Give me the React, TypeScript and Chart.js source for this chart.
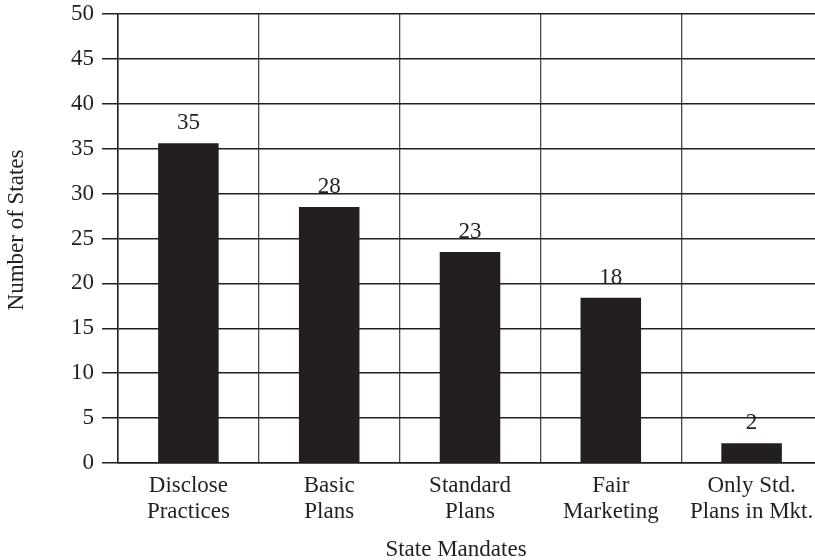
import React, { useEffect, useRef } from "react";
import { Chart, registerables } from "chart.js";

Chart.register(...registerables);

const categories: string[][] = [
  ["Disclose", "Practices"],
  ["Basic", "Plans"],
  ["Standard", "Plans"],
  ["Fair", "Marketing"],
  ["Only Std.", "Plans in Mkt."],
];
// bar heights as drawn in the picture
const barHeights: number[] = [35.6, 28.5, 23.5, 18.4, 2.2];
// printed labels above bars
const barLabels: string[] = ["35", "28", "23", "18", "2"];

const yTitle = "Number of States";
const xTitle = "State Mandates";

const FONT = "'Liberation Serif', 'Times New Roman', serif";
const INK = "#231f20";
const FS = 23;

const valueLabelPlugin = {
  id: "valueLabels",
  afterDatasetsDraw(chart: any) {
    const ctx = chart.ctx;
    const meta = chart.getDatasetMeta(0);
    ctx.save();
    ctx.font = `${FS}px ${FONT}`;
    ctx.fillStyle = INK;
    ctx.textAlign = "center";
    ctx.textBaseline = "alphabetic";
    meta.data.forEach((el: any, i: number) => {
      ctx.fillText(barLabels[i], el.x, el.y - 14);
    });
    ctx.restore();
  },
};

const axisTitlePlugin = {
  id: "axisTitles",
  afterDraw(chart: any) {
    const ctx = chart.ctx;
    const area = chart.chartArea;
    ctx.save();
    ctx.font = `${FS}px ${FONT}`;
    ctx.fillStyle = INK;
    ctx.textAlign = "center";
    ctx.textBaseline = "alphabetic";
    ctx.fillText(xTitle, area.left + 338, chart.height - 4);
    ctx.translate(23, area.top + 216);
    ctx.rotate(-Math.PI / 2);
    ctx.fillText(yTitle, 0, 0);
    ctx.restore();
  },
};

export default function App() {
  const ref = useRef<HTMLCanvasElement | null>(null);
  useEffect(() => {
    if (!ref.current) return;
    const chart = new Chart(ref.current, {
      type: "bar",
      data: {
        labels: categories,
        datasets: [
          {
            data: barHeights,
            backgroundColor: INK,
            borderWidth: 0,
            barPercentage: 0.86,
            categoryPercentage: 0.5,
          },
        ],
      },
      options: {
        animation: false,
        responsive: false,
        maintainAspectRatio: false,
        layout: { padding: { top: 14, right: 8, left: 0, bottom: 0 } },
        plugins: {
          legend: { display: false },
          tooltip: { enabled: false },
        },
        scales: {
          x: {
            grid: {
              offset: true,
              color: "#4a4a4a",
              lineWidth: 1.3,
              drawTicks: false,
            },
            border: { color: INK, width: 1.5 },
            ticks: {
              color: INK,
              font: { family: FONT, size: FS, lineHeight: 1.17 },
              padding: 9,
              maxRotation: 0,
              autoSkip: false,
            },
            afterFit: (s: any) => {
              s.height = 97;
              s.paddingLeft = 0;
              s.paddingRight = 0;
            },
          },
          y: {
            min: 0,
            max: 50,
            grid: {
              color: INK,
              lineWidth: 1.5,
              tickLength: 16,
            },
            border: { color: INK, width: 1.5 },
            ticks: {
              stepSize: 5,
              color: INK,
              font: { family: FONT, size: FS },
              padding: 8,
            },
            afterFit: (s: any) => {
              s.width = 118;
              s.paddingTop = 0;
              s.paddingBottom = 0;
            },
          },
        },
      },
      plugins: [valueLabelPlugin, axisTitlePlugin],
    });
    return () => chart.destroy();
  }, []);
  return (
    <div
      style={{
        position: "fixed",
        left: 0,
        top: 0,
        width: 815,
        height: 560,
        overflow: "hidden",
        background: "#fff",
      }}
    >
      <canvas ref={ref} width={830} height={560} style={{ display: "block" }} />
    </div>
  );
}
